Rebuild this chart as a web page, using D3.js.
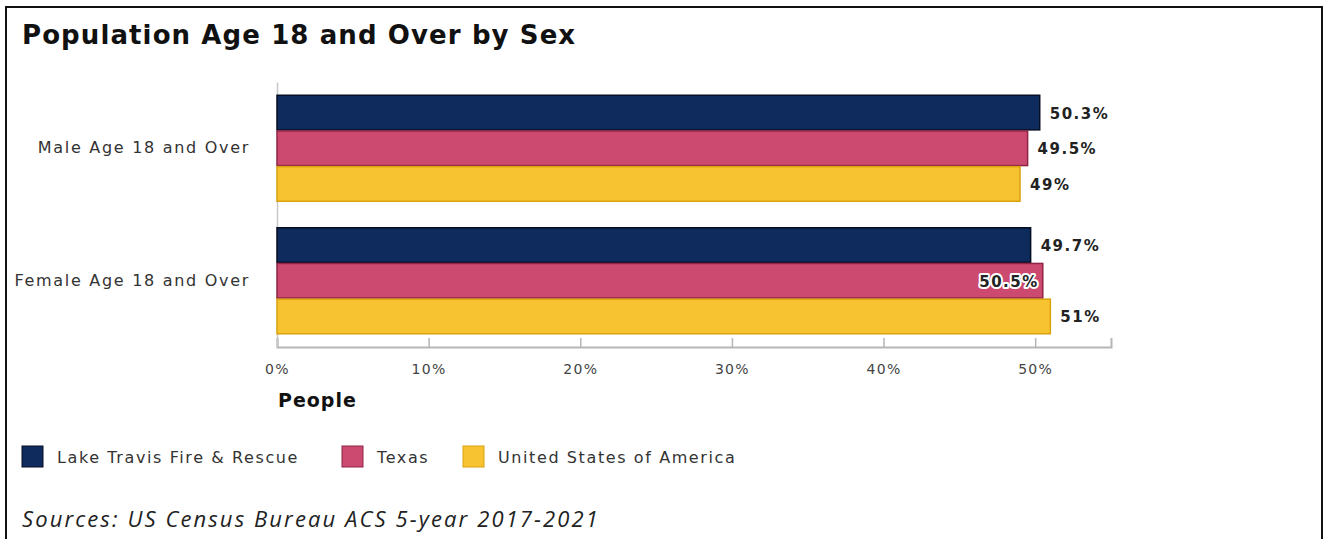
<!DOCTYPE html>
<html>
<head>
<meta charset="utf-8">
<script src="https://cdn.jsdelivr.net/npm/d3@7"></script>
<style>
  html, body { margin: 0; padding: 0; background: #fff; }
  svg { display: block; }
</style>
</head>
<body>
<svg id="chart" width="1329" height="539"></svg>
<script>
// Population age 18+ by sex, share of total (percent)
const categories = ["Male Age 18 and Over", "Female Age 18 and Over"];
const seriesNames = ["Lake Travis Fire & Rescue", "Texas", "United States of America"];
const lakeTravis = [50.3, 49.7];
const texas = [49.5, 50.5];
const usa = [49, 51];
const seriesValues = [lakeTravis, texas, usa];
const xTicks = [0, 10, 20, 30, 40, 50];

const colors = ["#0f2a5c", "#cc4a70", "#f8c330"];
const strokes = ["#050f24", "#8e2446", "#d9a10e"];
const FONT = "DejaVu Sans, sans-serif";

const svg = d3.select("#chart");

// outer frame
svg.append("rect")
  .attr("x", 6).attr("y", 7)
  .attr("width", 1316).attr("height", 560)
  .attr("fill", "none").attr("stroke", "#111").attr("stroke-width", 2);

svg.append("text")
  .attr("x", 22).attr("y", 44)
  .attr("font-family", FONT)
  .attr("font-weight", "bold")
  .attr("font-size", 26)
  .attr("letter-spacing", 1.1)
  .attr("fill", "#111")
  .text("Population Age 18 and Over by Sex");

const plot = { left: 277, right: 1111, top: 82, bottom: 347 };

const x = d3.scaleLinear().domain([0, 55]).range([plot.left, plot.right]);
const y0 = d3.scaleBand().domain(categories).range([plot.top, plot.bottom])
  .paddingInner(0.2).paddingOuter(0.1);
const y1 = d3.scaleBand().domain(seriesNames).range([0, y0.bandwidth()]).paddingInner(0.03);

// x axis with inward ticks
const xAxis = d3.axisBottom(x).tickValues(xTicks).tickSize(-9).tickPadding(17)
  .tickFormat(d => d + "%");
const gx = svg.append("g").attr("transform", `translate(0,${plot.bottom})`).call(xAxis);
gx.select(".domain").attr("stroke", "#b5b5b5").attr("stroke-width", 2);
gx.selectAll(".tick line").attr("stroke", "#b5b5b5").attr("stroke-width", 1.5);
gx.selectAll(".tick text")
  .attr("font-family", FONT)
  .attr("font-size", 14)
  .attr("letter-spacing", 1.3)
  .attr("fill", "#444");

// y axis: category labels
const yAxis = d3.axisLeft(y0).tickSize(0).tickPadding(27);
const gy = svg.append("g").attr("transform", `translate(${plot.left},0)`).call(yAxis);
gy.select(".domain").attr("stroke", "#c8c8c8").attr("stroke-width", 1.5);
gy.selectAll(".tick text")
  .attr("font-family", FONT)
  .attr("font-size", 16)
  .attr("letter-spacing", 1.7)
  .attr("fill", "#333");

svg.append("text")
  .attr("x", 278).attr("y", 407)
  .attr("font-family", FONT)
  .attr("font-weight", "bold")
  .attr("font-size", 19)
  .attr("letter-spacing", 1)
  .attr("fill", "#111")
  .text("People");

// bars
const rows = [];
categories.forEach((c, ci) => {
  seriesNames.forEach((s, si) => {
    rows.push({ cat: c, series: s, si, value: seriesValues[si][ci] });
  });
});

const bars = svg.append("g");
bars.selectAll("rect").data(rows).join("rect")
  .attr("x", x(0))
  .attr("y", d => y0(d.cat) + y1(d.series))
  .attr("width", d => x(d.value) - x(0))
  .attr("height", y1.bandwidth())
  .attr("fill", d => colors[d.si])
  .attr("stroke", d => strokes[d.si])
  .attr("stroke-width", 1.5);

// value labels; Texas's widest value sits inside its bar with a white halo
const labels = svg.append("g");
rows.forEach(d => {
  const inside = d.si === 1 && d.value === d3.max(texas);
  const cy = y0(d.cat) + y1(d.series) + y1.bandwidth() / 2;
  const t = labels.append("text")
    .attr("y", cy)
    .attr("dy", "0.4em")
    .attr("font-family", FONT)
    .attr("font-weight", "bold")
    .attr("font-size", 15)
    .attr("letter-spacing", 1.5)
    .attr("fill", "#222")
    .text(d.value + "%");
  if (inside) {
    t.attr("x", x(d.value) - 4).attr("text-anchor", "end")
      .attr("stroke", "#fff").attr("stroke-width", 4)
      .attr("paint-order", "stroke").attr("stroke-linejoin", "round");
  } else {
    t.attr("x", x(d.value) + 10);
  }
});

// legend
const legendX = [22, 342, 463];
const legend = svg.append("g");
seriesNames.forEach((s, i) => {
  legend.append("rect")
    .attr("x", legendX[i]).attr("y", 446)
    .attr("width", 21).attr("height", 21)
    .attr("fill", colors[i]).attr("stroke", strokes[i]).attr("stroke-width", 1);
  legend.append("text")
    .attr("x", legendX[i] + 35).attr("y", 457)
    .attr("dy", "0.36em")
    .attr("font-family", FONT)
    .attr("font-size", 16)
    .attr("letter-spacing", 1.6)
    .attr("fill", "#333")
    .text(s);
});

svg.append("text")
  .attr("x", 22).attr("y", 527)
  .attr("font-family", "Open Sans, sans-serif")
  .attr("font-style", "italic")
  .attr("font-size", 22)
  .attr("letter-spacing", 2.1)
  .attr("fill", "#222")
  .text("Sources: US Census Bureau ACS 5-year 2017-2021");
</script>
</body>
</html>
